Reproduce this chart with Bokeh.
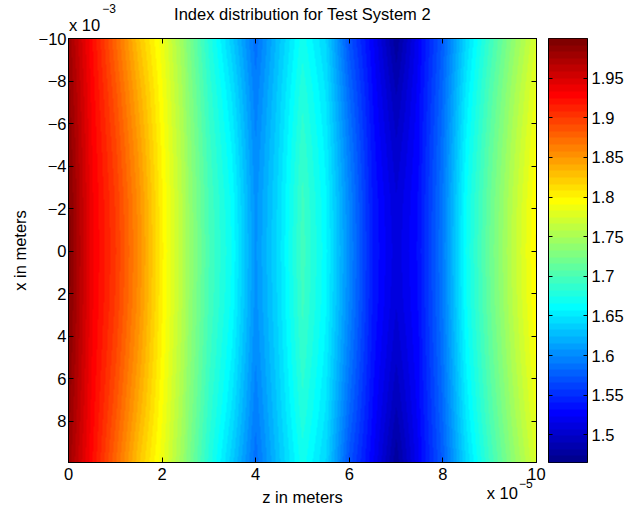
import numpy as np
from bokeh.plotting import figure
from bokeh.layouts import row
from bokeh.models import (Range1d, LinearColorMapper, FixedTicker, LinearAxis,
                          NumeralTickFormatter)
from bokeh.embed import file_html
from bokeh.resources import INLINE

# ---------------- data ----------------
title_text = "Index distribution for Test System 2"
x_label = "z in meters"
y_label = "x in meters"
x_exp_text = ("x 10", "\u22125")
y_exp_text = ("x 10", "\u22123")

z_knots = [0, 0.5, 1, 1.5, 2, 2.5, 3, 3.5, 4, 4.5, 5, 5.5, 6, 6.5, 7, 7.5, 8, 8.5, 9, 9.5, 10]
index_center = [1.995, 1.935, 1.900, 1.855, 1.800, 1.750, 1.700, 1.665, 1.605, 1.645, 1.695,
                1.660, 1.600, 1.540, 1.510, 1.535, 1.590, 1.665, 1.715, 1.760, 1.800]
index_edge = [1.980, 1.925, 1.875, 1.825, 1.785, 1.735, 1.680, 1.635, 1.585, 1.630, 1.670,
              1.640, 1.570, 1.525, 1.475, 1.525, 1.575, 1.640, 1.690, 1.735, 1.775]
x_knots = [-10, -7.5, -5, -2.5, 0, 2.5, 5, 7.5, 10]
bulge = [0.0, 0.4, 0.7, 0.92, 1.0, 0.92, 0.7, 0.4, 0.0]

x_ticks = [0, 2, 4, 6, 8, 10]
y_ticks = [-10, -8, -6, -4, -2, 0, 2, 4, 6, 8]
cbar_ticks = [1.5, 1.55, 1.6, 1.65, 1.7, 1.75, 1.8, 1.85, 1.9, 1.95]
c_low, c_high = 1.465, 2.0
z_min, z_max = 0, 10
x_min, x_max = -10, 9.95

def jet(m=64):
    n = int(np.ceil(m / 4))
    u = np.concatenate([np.arange(1, n + 1) / n, np.ones(n - 1), np.arange(n, 0, -1) / n])
    g = int(np.ceil(n / 2)) - (1 if m % 4 == 1 else 0) + np.arange(1, len(u) + 1)
    r = g + n
    b = g - n
    J = np.zeros((m, 3))
    k = r <= m
    J[r[k] - 1, 0] = u[k]
    k = g <= m
    J[g[k] - 1, 1] = u[k]
    k = b >= 1
    J[b[k] - 1, 2] = u[k]
    return ["#%02x%02x%02x" % tuple(int(round(c * 255)) for c in row_) for row_ in J]

palette = jet(64)
mapper = LinearColorMapper(palette=palette, low=c_low, high=c_high)

zs = np.linspace(z_min, z_max, 470)
xs = np.linspace(x_min, x_max, 424)
prof_c = np.interp(zs, z_knots, index_center)
prof_e = np.interp(zs, z_knots, index_edge)
w = np.interp(xs, x_knots, bulge)
img = prof_e[None, :] + w[:, None] * (prof_c - prof_e)[None, :]

FONT = "Liberation Sans"
FS = "16.5px"
FS_SUP = "12px"
TOP, BOTTOM = 38, 50

def style_axis(ax):
    ax.major_tick_in = 5
    ax.major_tick_out = 0
    ax.minor_tick_line_color = None
    ax.major_label_text_font = FONT
    ax.major_label_text_font_size = FS
    ax.axis_label_text_font = FONT
    ax.axis_label_text_font_size = FS
    ax.axis_label_text_font_style = "normal"
    ax.axis_line_color = "black"
    ax.major_tick_line_color = "black"
    ax.major_label_text_color = "black"
    ax.axis_label_text_color = "black"

def ticks_only_axis(ticks):
    ax = LinearAxis(ticker=FixedTicker(ticks=ticks))
    style_axis(ax)
    ax.major_label_overrides = {t: "" for t in ticks}
    ax.major_label_standoff = 0
    return ax

def text_row(items, size, standoff):
    """An axis without line or ticks, used only to place text in the border."""
    pos = [p_ for p_, _ in items]
    ax = LinearAxis(ticker=FixedTicker(ticks=pos))
    ax.axis_line_color = None
    ax.major_tick_line_color = None
    ax.minor_tick_line_color = None
    ax.major_tick_in = 0
    ax.major_tick_out = 0
    ax.major_label_text_font = FONT
    ax.major_label_text_font_size = size
    ax.major_label_text_color = "black"
    ax.major_label_standoff = standoff
    ax.major_label_overrides = {p_: t for p_, t in items}
    return ax

p = figure(width=548, height=512,
           x_range=Range1d(z_min, z_max), y_range=Range1d(x_max, x_min),
           output_backend="svg", toolbar_location=None,
           min_border_left=68, min_border_right=12, min_border_top=TOP, min_border_bottom=BOTTOM)

p.image(image=[img], x=z_min, y=x_min, dw=z_max - z_min, dh=x_max - x_min, color_mapper=mapper)

p.grid.visible = False
p.outline_line_color = "black"
p.outline_line_width = 1

style_axis(p.xaxis[0])
style_axis(p.yaxis[0])
p.xaxis[0].ticker = FixedTicker(ticks=x_ticks)
p.xaxis[0].major_label_standoff = 5

p.yaxis[0].ticker = FixedTicker(ticks=y_ticks)
p.yaxis[0].major_label_overrides = {t: str(t).replace("-", "\u2212") for t in y_ticks}
p.yaxis[0].axis_label = y_label
p.yaxis[0].major_label_standoff = 2
p.yaxis[0].axis_label_standoff = 7

# tick marks on the top and right edges
p.add_layout(ticks_only_axis(x_ticks), "above")
p.add_layout(ticks_only_axis(y_ticks), "right")

# text rows above the frame: "x 10", superscript "-3", title
p.add_layout(text_row([(0.342, y_exp_text[0])], FS, 5), "above")
p.add_layout(text_row([(0.865, y_exp_text[1])], FS_SUP, 0), "above")
p.add_layout(text_row([(5.0, title_text)], FS, -22), "above")

# text rows below the frame: superscript "-5", "x 10", x label
p.add_layout(text_row([(9.77, x_exp_text[1])], FS_SUP, -4), "below")
p.add_layout(text_row([(9.27, x_exp_text[0])], FS, -7), "below")
p.add_layout(text_row([(5.0, x_label)], FS, -17), "below")

# ---------------- colour bar ----------------
cb = figure(width=90, height=512, x_range=Range1d(0, 1), y_range=Range1d(c_low, c_high),
            output_backend="svg", toolbar_location=None, y_axis_location="right",
            min_border_left=0, min_border_right=51, min_border_top=TOP, min_border_bottom=BOTTOM)
levels = np.array([[c_low + (i + 0.5) * (c_high - c_low) / len(palette)] for i in range(len(palette))])
cb.image(image=[levels], x=0, y=c_low, dw=1, dh=c_high - c_low, color_mapper=mapper)
cb.grid.visible = False
cb.xaxis.visible = False
cb.outline_line_color = "black"
style_axis(cb.yaxis[0])
cb.yaxis[0].major_tick_in = 4
cb.yaxis[0].ticker = FixedTicker(ticks=cbar_ticks)
cb.yaxis[0].formatter = NumeralTickFormatter(format="0.0[0]")
cb.yaxis[0].major_label_standoff = 4
cb_left = ticks_only_axis(cbar_ticks)
cb_left.major_tick_in = 4
cb.add_layout(cb_left, "left")

layout = row(p, cb)
open("out.html", "w").write(file_html(layout, INLINE))
